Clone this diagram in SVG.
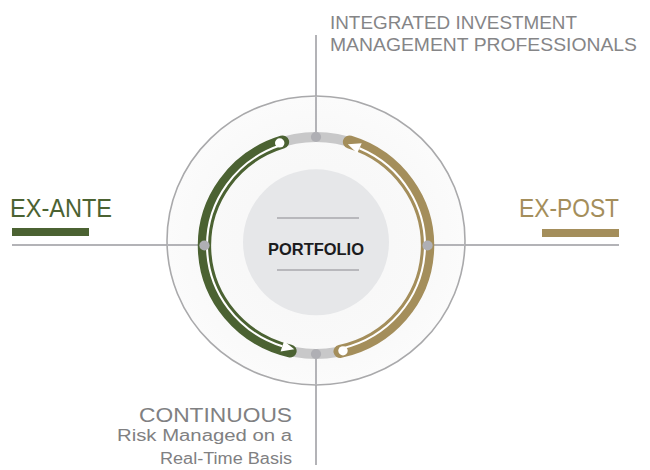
<svg xmlns="http://www.w3.org/2000/svg" width="650" height="470" viewBox="0 0 650 470">
  <defs>
    <style>
      .lbl{font-family:"Liberation Sans",Arial,sans-serif;}
      .conn{stroke:#b3b3b7;stroke-width:2;fill:none;}
      .arc{fill:none;stroke-width:13;stroke-linecap:round;}
      .flow{fill:none;stroke:#ffffff;stroke-width:2;}
      .pin{fill:#afafb4;}
    </style>
    <radialGradient id="disc" cx="50%" cy="50%" r="50%">
      <stop offset="0" stop-color="#f6f6f6"/>
      <stop offset="0.75" stop-color="#f9f9f9"/>
      <stop offset="1" stop-color="#fbfbfb"/>
    </radialGradient>
  </defs>
  <rect width="650" height="470" fill="#ffffff"/>

  <g id="connectors">
    <line class="conn" x1="316" y1="35" x2="316" y2="137"/>
    <line class="conn" x1="316" y1="354" x2="316" y2="465"/>
    <line class="conn" x1="12" y1="245" x2="204" y2="245"/>
    <line class="conn" x1="427" y1="245" x2="619" y2="245"/>
  </g>

  <g id="cycle">
    <ellipse cx="316" cy="240.5" rx="149" ry="144.5" fill="url(#disc)" stroke="#a9a9ab" stroke-width="1.6"/>
    <line class="conn" x1="316" y1="96" x2="316" y2="137"/>
    <line class="conn" x1="167" y1="245" x2="204" y2="245"/>
    <line class="conn" x1="427" y1="245" x2="465" y2="245"/>
    <line class="conn" x1="316" y1="354" x2="316" y2="385"/>
    <g transform="translate(316,245.5) scale(1.028,1)">
      <circle r="108.5" fill="none" stroke="#c8c8c9" stroke-width="10"/>
      <!-- ex-ante green arc -->
      <path class="arc" stroke="#4b6232" d="M -25.33 105.50 A 108.5 108.5 0 0 1 -32.63 -103.48"/>
      <path class="flow" d="M -34.51 -100.22 A 106 106 0 0 0 -32.75 100.82"/>
      <polygon fill="#ffffff" points="-21.13,103.87 -31.05,95.58 -34.45,106.05"/>
      <circle cx="-35.3" cy="-102.6" r="4.6" fill="#ffffff"/>
      <!-- ex-post gold arc -->
      <path class="arc" stroke="#a48e5b" d="M 32.63 -103.48 A 108.5 108.5 0 0 1 23.48 105.93"/>
      <path class="flow" d="M 25.64 102.85 A 106 106 0 0 0 42.26 -97.21"/>
      <polygon fill="#ffffff" points="30.99,-101.37 40.07,-92.17 44.46,-102.26"/>
      <circle cx="26.25" cy="105.28" r="4.6" fill="#ffffff"/>
      <!-- pins -->
      <circle class="pin" cx="0" cy="-108.5" r="5"/>
      <circle class="pin" cx="0" cy="108.5" r="5"/>
      <circle class="pin" cx="-108.5" cy="0" r="5"/>
      <circle class="pin" cx="108.5" cy="0" r="5"/>
    </g>
  </g>

  <g id="portfolio">
    <circle cx="316" cy="242.3" r="73" fill="#e6e7e9"/>
    <line x1="277" y1="218" x2="359" y2="218" stroke="#a9a9ad" stroke-width="1.5"/>
    <line x1="277" y1="270" x2="359" y2="270" stroke="#a9a9ad" stroke-width="1.5"/>
    <text class="lbl" x="316" y="255" text-anchor="middle" font-size="16.5" font-weight="bold" fill="#1c1c1e" textLength="96" lengthAdjust="spacingAndGlyphs">PORTFOLIO</text>
  </g>

  <g id="top-label">
    <text class="lbl" x="330" y="29" font-size="18" fill="#858587" textLength="247" lengthAdjust="spacingAndGlyphs">INTEGRATED INVESTMENT</text>
    <text class="lbl" x="330" y="51" font-size="18" fill="#858587" textLength="307" lengthAdjust="spacingAndGlyphs">MANAGEMENT PROFESSIONALS</text>
  </g>

  <g id="ex-ante">
    <text class="lbl" x="10" y="217" font-size="26" fill="#4b6232" textLength="102" lengthAdjust="spacingAndGlyphs">EX-ANTE</text>
    <rect x="12" y="228" width="77" height="8" fill="#4b6232"/>
  </g>

  <g id="ex-post">
    <text class="lbl" x="519" y="217" font-size="26" fill="#a48e5b" textLength="100" lengthAdjust="spacingAndGlyphs">EX-POST</text>
    <rect x="542" y="229" width="77" height="8" fill="#a48e5b"/>
  </g>

  <g id="continuous">
    <text class="lbl" x="292" y="422" text-anchor="end" font-size="21" fill="#808082" textLength="153" lengthAdjust="spacingAndGlyphs">CONTINUOUS</text>
    <text class="lbl" x="292" y="441" text-anchor="end" font-size="16" fill="#808082" textLength="175" lengthAdjust="spacingAndGlyphs">Risk Managed on a</text>
    <text class="lbl" x="292" y="464" text-anchor="end" font-size="16" fill="#808082" textLength="132" lengthAdjust="spacingAndGlyphs">Real-Time Basis</text>
  </g>
</svg>
